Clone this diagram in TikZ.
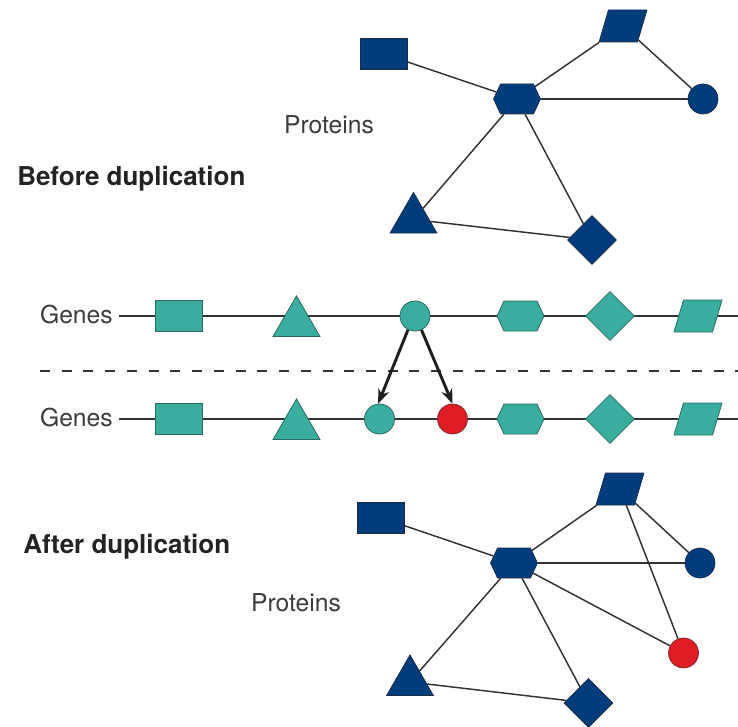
\documentclass[tikz,border=0pt]{standalone}
\usepackage{fontspec}
\setmainfont{TeX Gyre Heros}
\usetikzlibrary{shapes.geometric,shapes.symbols,arrows.meta,backgrounds}

\definecolor{navy}{RGB}{0,61,122}
\definecolor{navyline}{RGB}{28,42,72}
\definecolor{genefill}{RGB}{57,174,160}
\definecolor{geneline}{RGB}{45,105,98}
\definecolor{dupred}{RGB}{221,28,36}
\definecolor{dupline}{RGB}{120,40,40}
\definecolor{linkgrey}{RGB}{50,50,50}
\definecolor{textgrey}{RGB}{60,60,60}
\definecolor{headgrey}{RGB}{35,35,35}

\tikzset{
	prot/.style={draw=navyline, fill=navy, line width=0.5pt, inner sep=0pt},
	gene/.style={draw=geneline, fill=genefill, line width=0.6pt, inner sep=0pt},
	dupl/.style={draw=dupline, fill=dupred, line width=0.5pt, inner sep=0pt},
	boxshape/.style={rectangle, minimum width=35.25pt, minimum height=23.25pt},
	dotshape/.style={circle, minimum size=22.5pt},
	trishape/.style={regular polygon, regular polygon sides=3, minimum size=40.7pt},
	diashape/.style={diamond, minimum width=36.75pt, minimum height=36.75pt},
	hexshape/.style={signal, signal to=east and west, signal pointer angle=130, minimum width=35.25pt, minimum height=22.5pt},
	parshape/.style={trapezium, trapezium left angle=72, trapezium right angle=108, trapezium stretches=true, inner sep=2pt, minimum width=36pt, minimum height=24pt},
	link/.style={draw=linkgrey, line width=1.1pt},
	dna/.style={draw=linkgrey, line width=0.9pt},
	txt/.style={font=\fontsize{18.5}{22}\selectfont, text=textgrey, inner sep=0pt},
	headtxt/.style={font=\bfseries\fontsize{19.5}{23}\selectfont, text=headgrey, inner sep=0pt},
	copyarrow/.style={draw={rgb,255:red,30;green,30;blue,30}, line width=2.2pt, -{Stealth[length=11pt,width=8.5pt]}}
}

\begin{document}
\begin{tikzpicture}[x=0.75pt,y=0.75pt,yscale=-1,xscale=1]
	\path[use as bounding box] (0,0) rectangle (738,727);
	
	% Text Node
	\node [headtxt, anchor=base west] (before) at (17,186) {Before duplication};
	% Text Node
	\node [headtxt, anchor=base west] (after) at (23,553) {After duplication};
	% Text Node
	\node [txt] (protA) at (329,125) {Proteins};
	% Text Node
	\node [txt] (protB) at (296,603) {Proteins};
	% Text Node
	\node [txt, anchor=east] (genesA) at (113,314.5) {Genes};
	% Text Node
	\node [txt, anchor=east] (genesB) at (113,417.5) {Genes};
	
	%Proteins before duplication
	\node [prot, boxshape] (pSq) at (384,54) {};
	\node [prot, parshape] (pPar) at (623,26) {};
	\node [prot, hexshape] (pHex) at (517,99) {};
	\node [prot, dotshape] (pDot) at (703,99) {};
	\node [prot, trishape] (pTri) at (413.5,219.5) {};
	\node [prot, diashape] (pDia) at (592,240) {};
	
	%Genes before duplication
	\node [gene, boxshape] (sqA) at (178.5,316) {};
	\node [gene, trishape] (triA) at (296.5,323) {};
	\node [gene, dotshape] (cirA) at (415,316) {};
	\node [gene, hexshape] (hexA) at (520.5,316) {};
	\node [gene, diashape] (diaA) at (610,316) {};
	\node [gene, parshape] (parA) at (698,316) {};
	
	%Genes after duplication
	\node [gene, boxshape] (sqB) at (178.5,419) {};
	\node [gene, trishape] (triB) at (296.5,426) {};
	\node [gene, dotshape] (cirB) at (379.5,419) {};
	\node [dupl, dotshape] (redB) at (452.5,419) {};
	\node [gene, hexshape] (hexB) at (520.5,419) {};
	\node [gene, diashape] (diaB) at (610,419) {};
	\node [gene, parshape] (parB) at (698,419) {};
	
	%Proteins after duplication
	\node [prot, boxshape] (qSq) at (380.5,517.5) {};
	\node [prot, parshape] (qPar) at (620,489) {};
	\node [prot, hexshape] (qHex) at (514,563) {};
	\node [prot, dotshape] (qDot) at (700,563) {};
	\node [dupl, dotshape] (qRed) at (683.5,653) {};
	\node [prot, trishape] (qTri) at (410,682) {};
	\node [prot, diashape] (qDia) at (588.5,703) {};
	
	\coordinate (lineA) at (119,316);
	\coordinate (endA) at (738,316);
	\coordinate (lineB) at (119,419);
	\coordinate (endB) at (738,419);
	\coordinate (dashL) at (40,371);
	\coordinate (dashR) at (738,371);
	
	\begin{scope}[on background layer]
		%Interactions
		\draw [link] (pSq) -- (pHex);
		\draw [link] (pHex) -- (pPar);
		\draw [link] (pHex) -- (pDot);
		\draw [link] (pPar) -- (pDot);
		\draw [link] (pHex) -- (pTri);
		\draw [link] (pHex) -- (pDia);
		\draw [link] (pTri) -- (pDia);
		
		\draw [link] (qSq) -- (qHex);
		\draw [link] (qHex) -- (qPar);
		\draw [link] (qHex) -- (qDot);
		\draw [link] (qPar) -- (qDot);
		\draw [link] (qPar) -- (qRed);
		\draw [link] (qHex) -- (qRed);
		\draw [link] (qHex) -- (qTri);
		\draw [link] (qHex) -- (qDia);
		\draw [link] (qTri) -- (qDia);
		
		%Chromosomes
		\draw [dna] (lineA) -- (endA);
		\draw [dna] (lineB) -- (endB);
	\end{scope}
	
	%Straight Lines
	\draw [color=linkgrey, line width=0.9pt, dash pattern={on 7.5pt off 8.8pt}] (dashL) -- (dashR);
	
	%Duplication arrows
	\draw [copyarrow] (cirA.-117) -- (cirB.95);
	\draw [copyarrow] (cirA.-65) -- (redB.north);
	
\end{tikzpicture}
\end{document}
